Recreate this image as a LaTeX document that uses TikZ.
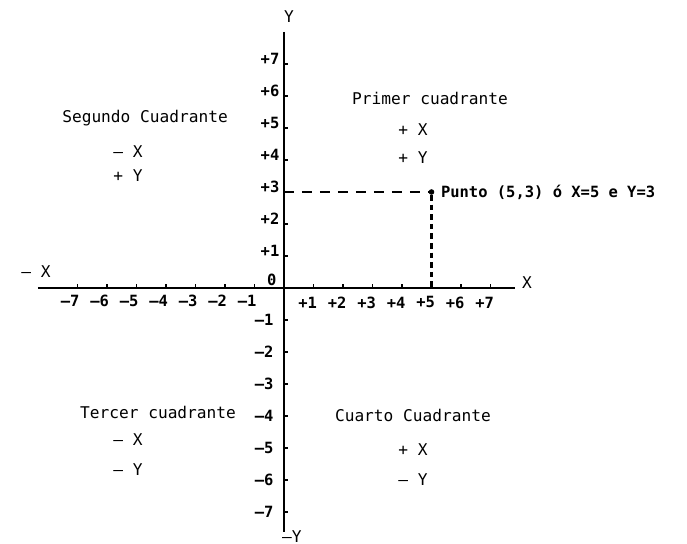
\documentclass[tikz,border=0pt]{standalone}
\usepackage{fontspec}
\newfontfamily\plotfont{DejaVu Sans Mono}
\usetikzlibrary{positioning}
\begin{document}
\begin{tikzpicture}[x=0.7375cm, y=0.8cm, font=\plotfont\fontsize{11.5}{13}\selectfont]
  \tikzset{
    num/.style={font=\plotfont\bfseries\fontsize{11}{12}\selectfont, inner sep=1pt},
    tickmark/.style={line width=1.2pt},
    guide/.style={line width=1.1pt, dash pattern=on 0.25cm off 0.2cm},
  }
  \useasboundingbox (-9.627,-8) rectangle (13.661,9);
  % axes
  \coordinate (xneg) at (-8.34,0);
  \coordinate (xpos) at (7.83,0);
  \coordinate (ytop) at (0,8);
  \coordinate (ybot) at (0,-7.62);
  \coordinate (o) at (0,0);
  \draw[line width=1.6pt] (xneg) -- (xpos);
  \draw[line width=2pt] (ytop) -- (ybot);
  \foreach \i in {-7,...,-1,1,2,...,7} {
    \draw[tickmark] (\i,0) -- (\i,0.13);
    \draw[tickmark] (0,\i) -- (0.13,\i);
  }
  \foreach \i in {1,...,7} {
    \node[num] (xp\i) at (\i-0.2,-0.45) {+\i};
    \node[num, anchor=east] (yp\i) at (-0.1,\i+0.15) {+\i};
    \node[num] (xn\i) at (-\i-0.25,-0.4) {–\i};
    \node[num, anchor=east] (yn\i) at (-0.3,-\i) {–\i};
  }
  \node[num] (zero) at (-0.41,0.25) {0};
  \node (lblX) at (8.24,0.16) {X};
  \node (lblnegX) at (-8.41,0.5) {– X};
  \node (lblY) at (0.17,8.47) {Y};
  \node[inner sep=0pt] (lblnegY) at (0.27,-7.76) {–Y};
  % the point (5,3)
  \coordinate (y3) at (0,3);
  \node[circle, fill, inner sep=1.4pt] (pt) at (5,3) {};
  \draw[guide] (y3) -- (pt);
  \draw[line width=1.6pt, dash pattern=on 0.14cm off 0.1cm] (pt) -- (pt |- o);
  \node[num, right=0.12cm of pt] (punto) {Punto (5,3) ó X=5 e Y=3};
  % quadrants
  \node (q1) at (4.95,5.91) {Primer cuadrante};
  \node (q1x) at (4.37,4.94) {+ X};
  \node (q1y) at (4.37,4.06) {+ Y};
  \node (q2) at (-4.71,5.31) {Segundo Cuadrante};
  \node (q2x) at (-5.29,4.25) {– X};
  \node (q2y) at (-5.29,3.5) {+ Y};
  \node (q3) at (-4.27,-3.875) {Tercer cuadrante};
  \node (q3x) at (-5.29,-4.75) {– X};
  \node (q3y) at (-5.29,-5.69) {– Y};
  \node (q4) at (4.37,-3.97) {Cuarto Cuadrante};
  \node (q4x) at (4.37,-5.06) {+ X};
  \node (q4y) at (4.37,-6.0) {– Y};
\end{tikzpicture}
\end{document}
